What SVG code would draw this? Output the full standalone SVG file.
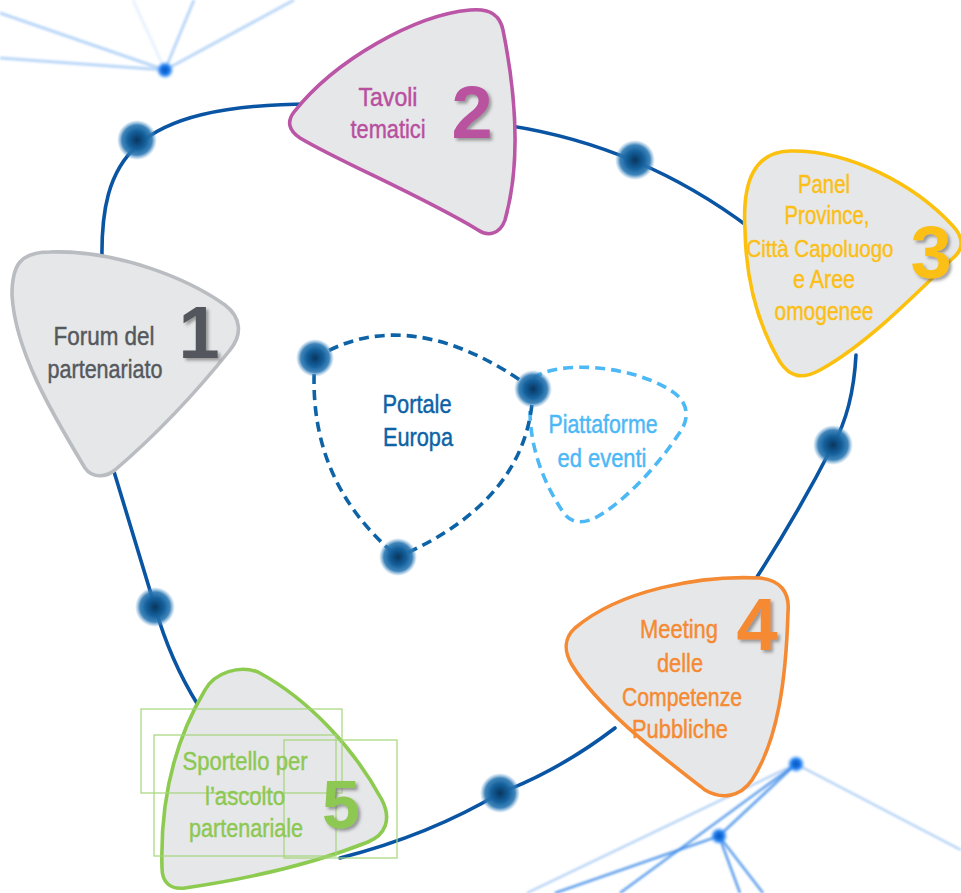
<svg xmlns="http://www.w3.org/2000/svg" width="961" height="893" viewBox="0 0 961 893">
<defs>
<radialGradient id="dot" cx="50%" cy="50%" r="50%">
<stop offset="0%" stop-color="#08365f"/>
<stop offset="45%" stop-color="#14609c"/>
<stop offset="75%" stop-color="#2b78b3" stop-opacity="0.9"/>
<stop offset="100%" stop-color="#5a9bd0" stop-opacity="0"/>
</radialGradient>
<radialGradient id="hub" cx="50%" cy="50%" r="50%">
<stop offset="0%" stop-color="#0a4fb8"/>
<stop offset="55%" stop-color="#1f7ff0"/>
<stop offset="100%" stop-color="#5aa8ff" stop-opacity="0"/>
</radialGradient>
<filter id="soft" x="-5%" y="-5%" width="110%" height="110%">
<feGaussianBlur stdDeviation="0.9"/>
</filter>
<filter id="shadow" x="-30%" y="-30%" width="160%" height="160%">
<feDropShadow dx="2.5" dy="2.5" stdDeviation="1.5" flood-color="#555" flood-opacity="0.55"/>
</filter>
<style>
.net-light{stroke:#a9cdf6;stroke-width:3;fill:none;opacity:0.8}
.net-mid{stroke:#2f82e6;stroke-width:2.6;fill:none;opacity:0.75}
.net-faint{stroke:#7fb2ee;stroke-width:2.2;fill:none;opacity:0.6}
.loop{stroke:#0a55a3;stroke-width:3.6;fill:none;stroke-linecap:round}
.node{fill:#e6e7e8;stroke-width:3.6;stroke-linejoin:round}
.lbl{font-family:"Liberation Sans",Arial,sans-serif;font-size:26px;text-anchor:middle;stroke-width:0.45}
.num{font-family:"Liberation Sans",Arial,sans-serif;font-weight:bold;text-anchor:middle;filter:url(#shadow)}
.dash-dark{stroke:#0d63a6;stroke-width:3.6;fill:none;stroke-dasharray:10 6}
.dash-light{stroke:#4db8f6;stroke-width:3.6;fill:none;stroke-dasharray:10 6}
.frame{fill:none;stroke:#a5d67b;stroke-width:1.2}
.c1{fill:#55595e;stroke:#55595e}
.c2{fill:#b94fa0;stroke:#b94fa0}
.c3{fill:#fbbf17;stroke:#fbbf17}
.c4{fill:#f58a32;stroke:#f58a32}
.c5{fill:#8dc853;stroke:#8dc853}
.cp{fill:#0d63a6;stroke:#0d63a6}
.cl{fill:#4db8f6;stroke:#4db8f6}
</style>
</defs>
<rect width="961" height="893" fill="#ffffff"/>

<g id="network-top-left" filter="url(#soft)">
<line class="net-light" x1="165" y1="70" x2="0" y2="13"/>
<line class="net-light" x1="165" y1="70" x2="0" y2="58"/>
<line class="net-light" x1="165" y1="70" x2="194" y2="0"/>
<line class="net-light" x1="165" y1="70" x2="294" y2="0"/>
<line class="net-light" x1="165" y1="70" x2="133" y2="0" style="opacity:0.25"/>
<circle cx="165" cy="70" r="9" fill="url(#hub)"/>
</g>

<g id="network-bottom-right" filter="url(#soft)">
<line class="net-faint" x1="796" y1="764" x2="527" y2="893"/>
<line class="net-faint" x1="796" y1="764" x2="961" y2="850"/>
<line class="net-mid" x1="796" y1="764" x2="620" y2="893"/>
<line class="net-mid" x1="796" y1="764" x2="719" y2="836"/>
<line class="net-mid" x1="719" y1="836" x2="555" y2="893"/>
<line class="net-mid" x1="719" y1="836" x2="740" y2="893"/>
<line class="net-mid" x1="719" y1="836" x2="763" y2="893"/>
<circle cx="796" cy="764" r="9" fill="url(#hub)"/>
<circle cx="719" cy="836" r="9" fill="url(#hub)"/>
</g>

<g id="connectors">
<path class="loop" d="M102,262 C100,160 130,105 310,104"/>
<path class="loop" d="M505,125 Q640,145 750,228"/>
<path class="loop" d="M856,355 Q853,410 833,445 Q800,510 755,580"/>
<path class="loop" d="M615,728 Q560,770 500,793 Q430,835 340,858"/>
<path class="loop" d="M198,705 Q170,660 155,607 Q135,540 112,465"/>
<circle cx="137" cy="140" r="20" fill="url(#dot)"/>
<circle cx="635" cy="160" r="20" fill="url(#dot)"/>
<circle cx="833" cy="445" r="20" fill="url(#dot)"/>
<circle cx="500" cy="793" r="20" fill="url(#dot)"/>
<circle cx="155" cy="607" r="20" fill="url(#dot)"/>
</g>

<g id="piattaforme">
<path class="dash-light" d="M533,378 C560,360 630,365 670,390 C690,402 690,420 678,435 C655,470 620,505 595,518 C580,525 570,522 563,512 C545,485 530,450 530,410"/>
<text class="lbl cl" x="603" y="433" textLength="109" lengthAdjust="spacingAndGlyphs">Piattaforme</text>
<text class="lbl cl" x="602" y="467" textLength="89" lengthAdjust="spacingAndGlyphs">ed eventi</text>
</g>

<g id="portale">
<path class="dash-dark" d="M315,358 Q410,300 533,389"/>
<path class="dash-dark" d="M315,358 Q305,480 398,557"/>
<path class="dash-dark" d="M533,389 Q530,500 398,557"/>
<circle cx="315" cy="358" r="19" fill="url(#dot)"/>
<circle cx="533" cy="389" r="19" fill="url(#dot)"/>
<circle cx="398" cy="557" r="19" fill="url(#dot)"/>
<text class="lbl cp" x="417" y="413" textLength="69" lengthAdjust="spacingAndGlyphs">Portale</text>
<text class="lbl cp" x="418" y="446" textLength="70" lengthAdjust="spacingAndGlyphs">Europa</text>
</g>

<g id="node1">
<path class="node" stroke="#b9bcc0" d="M12,295 C12,265 20,252 50,252 C120,250 190,280 225,305 C242,318 242,335 230,350 C190,400 150,440 115,470 C105,478 92,478 85,468 C50,410 15,350 12,295 Z"/>
<text class="lbl c1" x="104" y="345" textLength="101" lengthAdjust="spacingAndGlyphs">Forum del</text>
<text class="lbl c1" x="105" y="378" textLength="115" lengthAdjust="spacingAndGlyphs">partenariato</text>
<text class="num" x="199" y="358" font-size="74" fill="#53575c">1</text>
</g>

<g id="node2">
<path class="node" stroke="#bb55a6" d="M294,112 C335,60 415,15 470,10 C490,8 500,15 503,30 C515,90 522,160 505,220 C500,234 488,237 478,230 C420,195 340,162 300,138 C288,130 287,121 294,112 Z"/>
<text class="lbl c2" x="388" y="106" textLength="59" lengthAdjust="spacingAndGlyphs">Tavoli</text>
<text class="lbl c2" x="388" y="138" textLength="75" lengthAdjust="spacingAndGlyphs">tematici</text>
<text class="num" x="472" y="138" font-size="74" fill="#b952a0">2</text>
</g>

<g id="node3">
<path class="node" stroke="#fcc10f" d="M745,230 C742,180 755,152 790,151 C850,150 915,185 952,225 C965,238 963,250 953,258 C910,300 865,345 820,370 C802,380 790,377 780,362 C758,325 746,280 745,230 Z"/>
<text class="lbl c3" x="824" y="193" textLength="52" lengthAdjust="spacingAndGlyphs">Panel</text>
<text class="lbl c3" x="827" y="224" textLength="85" lengthAdjust="spacingAndGlyphs">Province,</text>
<text class="lbl c3" x="820" y="257" font-size="24.5" style="font-size:24.5px" textLength="147" lengthAdjust="spacingAndGlyphs">Città Capoluogo</text>
<text class="lbl c3" x="824" y="288" textLength="62" lengthAdjust="spacingAndGlyphs">e Aree</text>
<text class="lbl c3" x="824" y="320" textLength="99" lengthAdjust="spacingAndGlyphs">omogenee</text>
<text class="num" x="931" y="278" font-size="74" fill="#fbbf17">3</text>
</g>

<g id="node4">
<path class="node" stroke="#f48a33" d="M575,628 C620,590 700,575 760,578 C780,580 790,592 788,612 C786,680 778,740 752,780 C740,797 722,800 705,790 C660,755 600,710 572,665 C563,650 565,637 575,628 Z"/>
<text class="lbl c4" x="679" y="638" textLength="78" lengthAdjust="spacingAndGlyphs">Meeting</text>
<text class="lbl c4" x="680" y="672" textLength="46" lengthAdjust="spacingAndGlyphs">delle</text>
<text class="lbl c4" x="682" y="706" textLength="120" lengthAdjust="spacingAndGlyphs">Competenze</text>
<text class="lbl c4" x="680" y="738" textLength="96" lengthAdjust="spacingAndGlyphs">Pubbliche</text>
<text class="num" x="757" y="650" font-size="74" fill="#f58a32">4</text>
</g>

<g id="node5">
<path class="node" stroke="#8ccb4f" d="M205,690 C215,672 240,665 258,672 C310,700 355,750 382,800 C392,820 385,835 368,842 C310,865 240,880 185,888 C170,890 162,882 162,868 C160,800 175,740 205,690 Z"/>
<rect class="frame" x="141" y="709" width="201" height="84"/>
<rect class="frame" x="154" y="735" width="182" height="121"/>
<rect class="frame" x="284" y="740" width="113" height="118"/>
<text class="lbl c5" x="245" y="770" textLength="125" lengthAdjust="spacingAndGlyphs">Sportello per</text>
<text class="lbl c5" x="245" y="805" textLength="80" lengthAdjust="spacingAndGlyphs">l’ascolto</text>
<text class="lbl c5" x="246" y="837" textLength="114" lengthAdjust="spacingAndGlyphs">partenariale</text>
<text class="num" x="341" y="828" font-size="68" fill="#8dc853">5</text>
</g>
</svg>
